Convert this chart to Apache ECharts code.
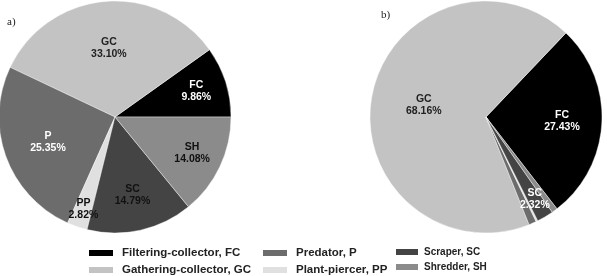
<!DOCTYPE html>
<html>
<head>
<meta charset="utf-8">
<script src="https://cdn.jsdelivr.net/npm/echarts@6/dist/echarts.min.js"></script>
<style>
  html, body { margin: 0; padding: 0; background: #fff; }
  #chart { width: 607px; height: 276px; }
</style>
</head>
<body>
<div id="chart"></div>
<script>
// functional feeding groups, same order in both pies (counter-clockwise)
const groupNames = [
  'Filtering-collector, FC',
  'Gathering-collector, GC',
  'Predator, P',
  'Plant-piercer, PP',
  'Scraper, SC',
  'Shredder, SH'
]
const groupCodes = ['FC', 'GC', 'P', 'PP', 'SC', 'SH']

// percentages
const valuesA = [9.86, 33.10, 25.35, 2.82, 14.79, 14.08]
const valuesB = [27.43, 68.16, 1.05, 0.25, 2.32, 0.79]
const labeledB = [true, true, false, false, true, false]

// styling
const sliceColors = ['#000000', '#c3c3c3', '#6c6c6c', '#e0e0e0', '#444444', '#8b8b8b']
const labelColors = ['#ffffff', '#222222', '#ffffff', '#111111', '#111111', '#111111']
const labelColorsB = ['#ffffff', '#222222', '#ffffff', '#111111', '#ffffff', '#111111']
// radial position of each label, as fraction of radius
const labelRadiusA = [0.71, 0.57, 0.59, 0.81, 0.66, 0.71]
const labelRadiusB = [0.63, 0.52, 0.6, 0.6, 0.8, 0.6]

const R = 116

function buildData(values, startAngle, radii, colors, shown) {
  const total = values.reduce((a, b) => a + b, 0)
  let cum = 0
  return values.map((v, i) => {
    const mid = (startAngle + (cum + v / 2) / total * 360) * Math.PI / 180
    cum += v
    const k = (radii[i] - 0.5) * R
    return {
      name: groupNames[i],
      value: v,
      itemStyle: { color: sliceColors[i] },
      label: {
        show: shown ? shown[i] : true,
        color: colors[i],
        offset: [k * Math.cos(mid), -k * Math.sin(mid)]
      }
    }
  })
}

const startA = 0
const startB = -52.3

const pieBase = {
  type: 'pie',
  radius: R,
  clockwise: false,
  animation: false,
  silent: true,
  itemStyle: { borderColor: '#ffffff', borderWidth: 0.4 },
  label: {
    position: 'inside',
    fontFamily: 'Liberation Sans, Arial, sans-serif',
    fontWeight: 'bold',
    fontSize: 10.5,
    lineHeight: 12,
    formatter: p => groupCodes[p.dataIndex] + '\n' + p.value.toFixed(2) + '%'
  },
  labelLine: { show: false }
}

const legendBase = {
  orient: 'vertical',
  top: 247,
  padding: 0,
  itemWidth: 26,
  itemHeight: 8,
  itemGap: 5,
  icon: 'rect',
  selectedMode: false,
  textStyle: {
    fontFamily: 'Liberation Sans, Arial, sans-serif',
    fontWeight: 'bold',
    fontSize: 11.5,
    color: '#222',
    padding: [0, 0, 0, 3]
  }
}

const chart = echarts.init(document.getElementById('chart'), null, { renderer: 'canvas' })
chart.setOption({
  backgroundColor: '#ffffff',
  title: [
    { text: 'a)', left: 2, top: 12, textStyle: { fontFamily: 'Liberation Serif, serif', fontWeight: 'normal', fontSize: 11, color: '#222' } },
    { text: 'b)', left: 376, top: 5, textStyle: { fontFamily: 'Liberation Serif, serif', fontWeight: 'normal', fontSize: 11, color: '#222' } }
  ],
  legend: [
    Object.assign({}, legendBase, { left: 87, data: [groupNames[0], groupNames[1]] }),
    Object.assign({}, legendBase, { left: 261, data: [groupNames[2], groupNames[3]] }),
    Object.assign({}, legendBase, {
      left: 394, itemWidth: 24, data: [groupNames[4], groupNames[5]],
      textStyle: Object.assign({}, legendBase.textStyle, { fontSize: 10, padding: [0, 0, 0, 0] })
    })
  ],
  series: [
    Object.assign({}, pieBase, {
      name: 'a',
      center: [115, 117],
      startAngle: startA,
      data: buildData(valuesA, startA, labelRadiusA, labelColors)
    }),
    Object.assign({}, pieBase, {
      name: 'b',
      center: [486, 117],
      startAngle: startB,
      data: buildData(valuesB, startB, labelRadiusB, labelColorsB, labeledB)
    })
  ]
})
</script>
</body>
</html>
